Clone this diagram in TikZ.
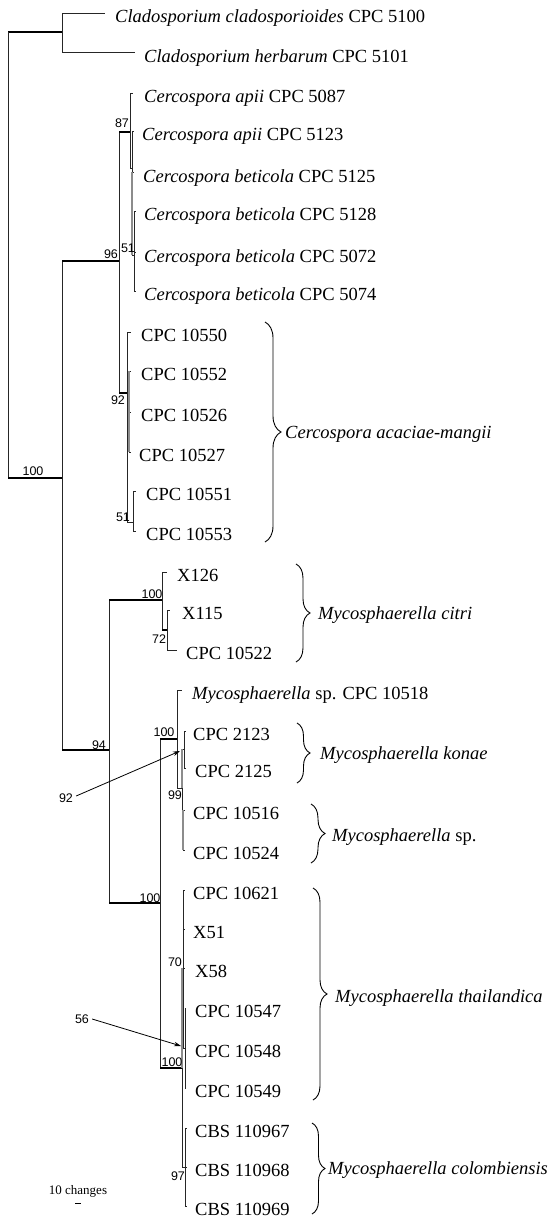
\documentclass[tikz,border=0pt]{standalone}
\usepackage{fontspec}
\setmainfont{Liberation Serif}
\newfontfamily\arialfont{Liberation Sans}
\usetikzlibrary{arrows.meta,decorations.pathreplacing}
\newcommand\tedge[3][thinbr]{\draw[thinbr] (#2) -- (#2 |- #3); \draw[#1] (#2 |- #3) -- (#3);}
\begin{document}
\begin{tikzpicture}[x=1pt,y=-1pt,
  thinbr/.style={line width=0.8pt, black!85},
  thickbr/.style={line width=2.6pt, black},
  zerobr/.style={line width=1.6pt, black!45},
  leaf/.style={anchor=base west, inner sep=0pt, font=\fontsize{18.5}{20}\selectfont},
  boot/.style={inner sep=0pt, font=\arialfont\fontsize{12.5}{13}\selectfont},
  clade/.style={anchor=base west, inner sep=0pt, font=\fontsize{18.5}{20}\selectfont\itshape},
  bracebr/.style={decorate, decoration={brace, amplitude=#1}, line width=0.9pt},
  ptr/.style={-{Stealth[length=7pt,width=4.5pt]}, line width=0.8pt}
]
\useasboundingbox (0,0) rectangle (554,1218);

% internal nodes
\coordinate (R) at (8,32);
\coordinate (Clado) at (62,32);
\coordinate (N100a) at (62,478);
\coordinate (N96) at (119,261);
\coordinate (N87) at (130,132);
\coordinate (Nb) at (132,168);
\coordinate (N51) at (134,255);
\coordinate (N92a) at (127,393);
\coordinate (Nd) at (129,412);
\coordinate (N51b) at (133,522);
\coordinate (N94) at (109,750);
\coordinate (Ncitri) at (162,600);
\coordinate (N72) at (167,630);
\coordinate (N100c) at (160,903);
\coordinate (N100d) at (177,739);
\coordinate (N99) at (182,788);
\coordinate (N92b) at (184,749);
\coordinate (Nsp) at (183,830);
\coordinate (N100e) at (182,1068);
\coordinate (N70) at (183,968);
\coordinate (N56) at (185,1048);
\coordinate (N97) at (185,1167);

% leaf tips
\coordinate (l1) at (105,13);
\coordinate (l2) at (135,52);
\coordinate (l3) at (133,93);
\coordinate (l4) at (133.5,131);
\coordinate (l5) at (134,172);
\coordinate (l6) at (136,211);
\coordinate (l7) at (136,252);
\coordinate (l8) at (136,291);
\coordinate (l9) at (131,332);
\coordinate (l10) at (131,371);
\coordinate (l11) at (131,412);
\coordinate (l12) at (131,452);
\coordinate (l13) at (136,491);
\coordinate (l14) at (136,531);
\coordinate (l15) at (167,572);
\coordinate (l16) at (170,610);
\coordinate (l17) at (177,650);
\coordinate (l18) at (182,690);
\coordinate (l19) at (186,731);
\coordinate (l20) at (186,768);
\coordinate (l21) at (185,810);
\coordinate (l22) at (185,850);
\coordinate (l23) at (185,890);
\coordinate (l24) at (185,929);
\coordinate (l25) at (185,968);
\coordinate (l26) at (186,1008);
\coordinate (l27) at (186,1048);
\coordinate (l28) at (186,1088);
\coordinate (l29) at (187,1128);
\coordinate (l30) at (187,1167);
\coordinate (l31) at (187,1206);

% branches
\tedge[thickbr]{R}{Clado}
\tedge[thickbr]{R}{N100a}
\tedge{Clado}{l1}
\tedge{Clado}{l2}
\tedge[thickbr]{N100a}{N96}
\tedge[thickbr]{N100a}{N94}
\tedge[thickbr]{N96}{N87}
\tedge[thickbr]{N96}{N92a}
\tedge{N87}{l3}
\tedge{N87}{Nb}
\tedge{Nb}{l4}
\tedge{Nb}{l5}
\tedge{Nb}{N51}
\draw[zerobr] (Nb |- l5) -- (Nb |- N51);
\tedge{N51}{l6}
\tedge{N51}{l7}
\tedge{N51}{l8}
\tedge{N92a}{l9}
\tedge{N92a}{Nd}
\tedge{N92a}{N51b}
\tedge{Nd}{l10}
\tedge{Nd}{l11}
\tedge{Nd}{l12}
\draw[zerobr] (Nd |- l10) -- (Nd |- l12);
\tedge{N51b}{l13}
\tedge{N51b}{l14}
\tedge[thickbr]{N94}{Ncitri}
\tedge[thickbr]{N94}{N100c}
\tedge{Ncitri}{l15}
\tedge[thickbr]{Ncitri}{N72}
\tedge{N72}{l16}
\tedge{N72}{l17}
\tedge[thickbr]{N100c}{N100d}
\tedge[thickbr]{N100c}{N100e}
\tedge{N100d}{l18}
\tedge{N100d}{N99}
\tedge{N99}{N92b}
\tedge{N99}{Nsp}
\draw[zerobr] (N99 |- N92b) -- (N99);
\tedge{N92b}{l19}
\tedge{N92b}{l20}
\tedge{Nsp}{l21}
\tedge{Nsp}{l22}
\draw[zerobr] (Nsp |- l21) -- (Nsp |- l22);
\tedge{N100e}{N70}
\tedge{N100e}{N97}
\draw[zerobr] (N100e |- N70) -- (N100e);
\tedge{N70}{l23}
\tedge{N70}{l24}
\tedge{N70}{l25}
\tedge{N70}{N56}
\tedge{N56}{l26}
\tedge{N56}{l27}
\tedge{N56}{l28}
\tedge{N97}{l29}
\tedge{N97}{l30}
\tedge{N97}{l31}
\draw[thinbr] (N97) -- (N100e |- N97);

% leaf labels
\node[leaf] (t1) at (115,22) {\textit{Cladosporium cladosporioides} CPC 5100};
\node[leaf] (t2) at (144,62) {\textit{Cladosporium herbarum} CPC 5101};
\node[leaf] (t3) at (144,102) {\textit{Cercospora apii} CPC 5087};
\node[leaf] (t4) at (142,140) {\textit{Cercospora apii} CPC 5123};
\node[leaf] (t5) at (143,182) {\textit{Cercospora beticola} CPC 5125};
\node[leaf] (t6) at (144,220) {\textit{Cercospora beticola} CPC 5128};
\node[leaf] (t7) at (144,262) {\textit{Cercospora beticola} CPC 5072};
\node[leaf] (t8) at (144,300) {\textit{Cercospora beticola} CPC 5074};
\node[leaf] (t9) at (141,341) {CPC 10550};
\node[leaf] (t10) at (141,380.5) {CPC 10552};
\node[leaf] (t11) at (141,421.5) {CPC 10526};
\node[leaf] (t12) at (139,461.5) {CPC 10527};
\node[leaf] (t13) at (146,500.5) {CPC 10551};
\node[leaf] (t14) at (146,540.5) {CPC 10553};
\node[leaf] (t15) at (177,581.5) {X126};
\node[leaf] (t16) at (182,619.5) {X115};
\node[leaf] (t17) at (186,659.5) {CPC 10522};
\node[leaf] (t18) at (192,699.5) {\textit{Mycosphaerella} sp. CPC 10518};
\node[leaf] (t19) at (193,740.5) {CPC 2123};
\node[leaf] (t20) at (195,777.5) {CPC 2125};
\node[leaf] (t21) at (193,819.5) {CPC 10516};
\node[leaf] (t22) at (193,859.5) {CPC 10524};
\node[leaf] (t23) at (193,899.5) {CPC 10621};
\node[leaf] (t24) at (193,938.5) {X51};
\node[leaf] (t25) at (195,977.5) {X58};
\node[leaf] (t26) at (195,1017.5) {CPC 10547};
\node[leaf] (t27) at (195,1057.5) {CPC 10548};
\node[leaf] (t28) at (195,1097.5) {CPC 10549};
\node[leaf] (t29) at (195,1137.5) {CBS 110967};
\node[leaf] (t30) at (195,1176.5) {CBS 110968};
\node[leaf] (t31) at (195,1215) {CBS 110969};

% bootstrap values
\node[boot] (b100a) at (33,471) {100};
\node[boot] (b96) at (111,254) {96};
\node[boot] (b87) at (122,123) {87};
\node[boot] (b51) at (128,248) {51};
\node[boot] (b92a) at (118,400) {92};
\node[boot] (b51b) at (123,517) {51};
\node[boot] (b100b) at (152,594) {100};
\node[boot] (b72) at (159,639) {72};
\node[boot] (b94) at (99,745) {94};
\node[boot] (b100d) at (164,732) {100};
\node[boot] (b99) at (175,795) {99};
\node[boot] (b92b) at (66,798) {92};
\node[boot] (b100c) at (150,898) {100};
\node[boot] (b70) at (175,962) {70};
\node[boot] (b56) at (82,1019) {56};
\node[boot] (b100e) at (172,1062) {100};
\node[boot] (b97) at (178,1176) {97};

% pointer arrows
\coordinate (a92) at (180,751);
\coordinate (a56) at (181,1046);
\draw[ptr] (b92b.east) ++(3,-2) -- (a92);
\draw[ptr] (b56.east) ++(3,0) -- (a56);

% clade braces
\coordinate (c1t) at (265,322); \coordinate (c1b) at (265,542);
\coordinate (c2t) at (296,564); \coordinate (c2b) at (296,662);
\coordinate (c3t) at (297,723); \coordinate (c3b) at (297,783);
\coordinate (c4t) at (311,804); \coordinate (c4b) at (311,863);
\coordinate (c5t) at (313,888); \coordinate (c5b) at (313,1100);
\coordinate (c6t) at (312,1123); \coordinate (c6b) at (312,1214);
\draw[bracebr=16pt] (c1t) -- (c1b);
\draw[bracebr=14pt] (c2t) -- (c2b);
\draw[bracebr=13pt] (c3t) -- (c3b);
\draw[bracebr=14pt] (c4t) -- (c4b);
\draw[bracebr=14pt] (c5t) -- (c5b);
\draw[bracebr=13pt] (c6t) -- (c6b);
\node[clade] (s1) at (285,438) {Cercospora acaciae-mangii};
\node[clade] (s2) at (318,619) {Mycosphaerella citri};
\node[clade] (s3) at (320,759) {Mycosphaerella konae};
\node[clade] (s4) at (332,841) {Mycosphaerella \textup{sp.}};
\node[clade] (s5) at (335,1002) {Mycosphaerella thailandica};
\node[clade] (s6) at (328,1174) {Mycosphaerella colombiensis};

% scale bar
\node[inner sep=0pt, font=\fontsize{13}{14}\selectfont] (scl) at (78,1191) {10 changes};
\coordinate (sb1) at (75,1203);
\coordinate (sb2) at (81,1203);
\draw[line width=0.8pt] (sb1) -- (sb2);
\end{tikzpicture}
\end{document}
